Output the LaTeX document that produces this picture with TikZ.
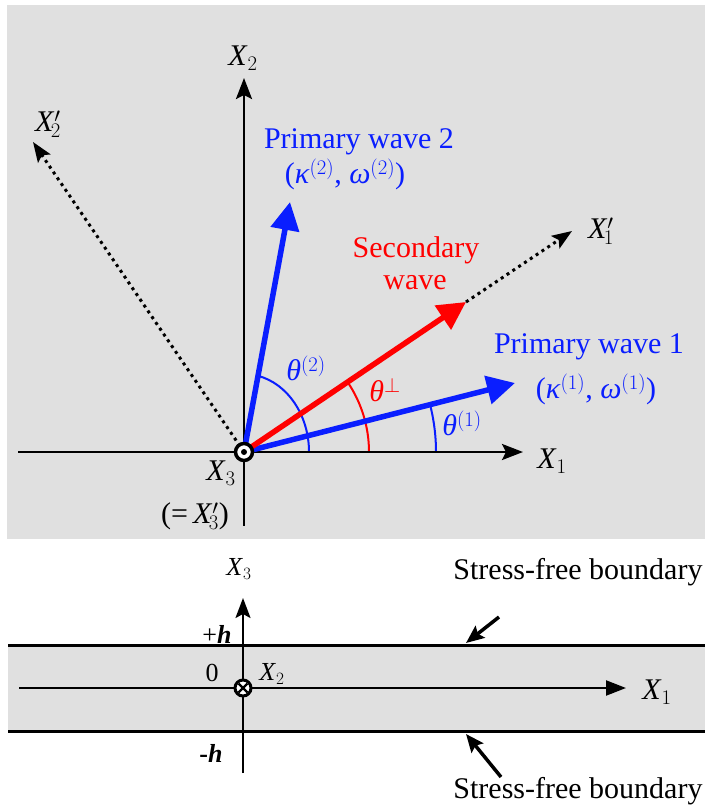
\documentclass[tikz,border=0pt]{standalone}
\usepackage{fontspec}
\setmainfont{Liberation Serif}
\usetikzlibrary{arrows.meta}
\definecolor{bgray}{RGB}{224,224,224}
\definecolor{wblue}{RGB}{10,30,255}
\definecolor{wred}{RGB}{255,0,0}
\newcommand{\axl}[1]{\textit{X}$_{#1}$}
\newcommand{\axpl}[1]{\textit{X}$'_{\!#1}$}
\begin{document}
\begin{tikzpicture}[x=1pt,y=-1pt,
  every node/.style={font=\fontsize{30}{34}\selectfont, inner sep=0pt},
  smalllab/.style={font=\fontsize{26}{30}\selectfont},
  axisline/.style={line width=2.6pt, -{Stealth[length=21pt,width=16pt,inset=4pt]}},
  plainaxis/.style={line width=2.6pt},
  dotline/.style={line width=3pt, dash pattern=on 3pt off 4pt, -{Stealth[length=20pt,width=15pt,inset=4pt]}},
  wavearrow/.style={line width=5.5pt, -{Triangle[length=28pt,width=28pt]}},
  anglearc/.style={line width=2pt},
  bline/.style={line width=3pt},
  ptr/.style={line width=3.5pt, -{Stealth[length=18pt,width=15pt,inset=3pt]}}]
\useasboundingbox (0,0) rectangle (705,809);
% backgrounds
\fill[bgray] (7,5) rectangle (705,539);
\fill[bgray] (8,645) rectangle (705,731);

% ---------- top panel ----------
\coordinate (O) at (244,452);
\coordinate (X1L) at (18,452);
\coordinate (X1R) at (523,452);
\coordinate (X2B) at (244,526);
\coordinate (X2T) at (244,78);
\coordinate (X2P) at (33,142);
\coordinate (W1) at (515,383);
\coordinate (W2) at (290,202);
\coordinate (S) at (466,302);
\coordinate (X1P) at (572,231);

% angle arcs
\draw[anglearc, wblue] (O) ++(192,0) arc[start angle=0, end angle=-14.4, radius=192];
\draw[anglearc, wred] (O) ++(125,0) arc[start angle=0, end angle=-34, radius=125];
\draw[anglearc, wblue] (O) ++(65,0) arc[start angle=0, end angle=-77.8, x radius=65, y radius=78];

% axes
\draw[plainaxis] (O) -- (X2B);
\draw[axisline] (X1L) -- (X1R);
\draw[axisline] (O) -- (X2T);
\draw[dotline] (O) -- (X2P);
\draw[dotline] (S) -- (X1P);

% waves
\draw[wavearrow, wblue] (O) -- (W2);
\draw[wavearrow, wblue] (O) -- (W1);
\draw[wavearrow, wred] (O) -- (S);

% origin marker
\node[circle, draw=black, line width=3.5pt, fill=white, minimum size=17pt] (Om) at (O) {};
\fill (Om.center) circle[radius=3pt];

% labels
\node (lX2) at (243,58) {\axl{2}};
\node (lX2p) at (48,124) {\axpl{2}};
\node[text=wblue] (lpw2) at (359,142) {Primary wave 2};
\node[text=wblue] (lk2) at (345,174) {(\textit{κ}$^{(2)}$, \textit{ω}$^{(2)}$)};
\node[text=wred] (lsec) at (416,250) {Secondary};
\node[text=wred] (lwave) at (415,283) {wave};
\node (lX1p) at (601,231) {\axpl{1}};
\node[text=wblue] (lpw1) at (589,347) {Primary wave 1};
\node[text=wblue] (lk1) at (596,389) {(\textit{κ}$^{(1)}$, \textit{ω}$^{(1)}$)};
\node[text=wred] (lthp) at (385,390) {\textit{θ}$^{\perp}$};
\node[text=wblue] (lth2) at (306,368) {\textit{θ}$^{(2)}$};
\node[text=wblue] (lth1) at (462,423) {\textit{θ}$^{(1)}$};
\node (lX1) at (552,461) {\axl{1}};
\node (lX3) at (221,473) {\axl{3}};
\node (lX3p) at (195,516) {(=\,\axpl{3})};

% ---------- bottom panel ----------
\coordinate (BT1) at (8,645);
\coordinate (BT2) at (705,645);
\coordinate (BB1) at (8,731);
\coordinate (BB2) at (705,731);
\coordinate (B1L) at (19,688);
\coordinate (B1R) at (626,688);
\coordinate (B3B) at (243,773);
\coordinate (B3T) at (243,598);
\coordinate (BO) at (243,688);
\coordinate (P1s) at (499,617);
\coordinate (P1e) at (466,643);
\coordinate (P2s) at (501,777);
\coordinate (P2e) at (466,734);

\draw[bline] (BT1) -- (BT2);
\draw[bline] (BB1) -- (BB2);
\draw[line width=2.2pt, -{Triangle[length=20pt,width=15pt]}] (B1L) -- (B1R);
\draw[line width=2.2pt, -{Stealth[length=20pt,width=15pt,inset=4pt]}] (B3B) -- (B3T);

\node[circle, draw=black, line width=3pt, fill=white, minimum size=16pt] (Bx) at (BO) {};
\draw[line width=2.4pt] (Bx.center) ++(-4.5,-4.5) -- ++(9,9);
\draw[line width=2.4pt] (Bx.center) ++(-4.5,4.5) -- ++(9,-9);

\draw[ptr] (P1s) -- (P1e);
\draw[ptr] (P2s) -- (P2e);

\node[smalllab] (bX3) at (239,569) {\axl{3}};
\node[smalllab] (bph) at (217,634) {+\textbf{\textit{h}}};
\node[smalllab] (b0) at (212,673) {0};
\node[smalllab] (bX2) at (272,674) {\axl{2}};
\node[smalllab] (bmh) at (211,753) {\textbf{-\textit{h}}};
\node (bX1) at (657,692) {\axl{1}};
\node (sfb1) at (578,572) {Stress-free boundary};
\node (sfb2) at (578,791) {Stress-free boundary};
\end{tikzpicture}
\end{document}
